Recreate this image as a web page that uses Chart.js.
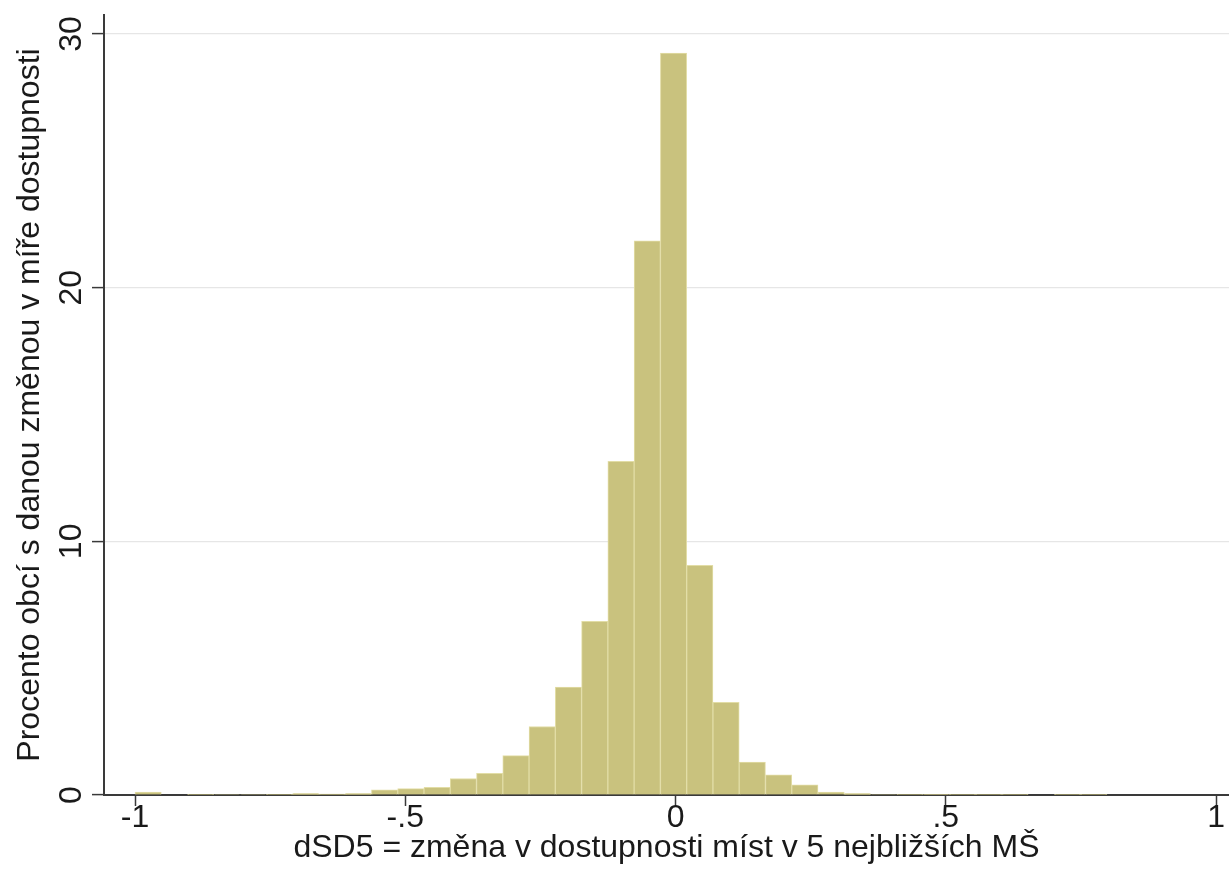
<!DOCTYPE html>
<html>
<head>
<meta charset="utf-8">
<script src="https://cdn.jsdelivr.net/npm/chart.js@4.4.1/dist/chart.umd.min.js"></script>
<style>
  html, body { margin: 0; padding: 0; background: #ffffff; }
  #wrap { width: 1229px; height: 882px; position: relative; }
</style>
</head>
<body>
<div id="wrap"><canvas id="c" width="1229" height="882"></canvas></div>
<script>
// Histogram bins (37 bins of equal width starting at -1.0)
const binStart = -1.0;
const binWidth = 0.0486;
const percentValues = [
  0.12, 0.00, 0.03, 0.02, 0.02, 0.03, 0.06, 0.04, 0.06, 0.20,
  0.25, 0.30, 0.65, 0.85, 1.55, 2.70, 4.25, 6.85, 13.15, 21.85,
  29.25, 9.05, 3.65, 1.30, 0.80, 0.40, 0.12, 0.06, 0.02, 0.03,
  0.01, 0.03, 0.03, 0.03, 0.00, 0.03, 0.03
];
const xTickValues = [-1, -0.5, 0, 0.5, 1];
const xTickLabels = ['-1', '-.5', '0', '.5', '1'];
const yTickValues = [0, 10, 20, 30];
const yTickLabels = ['0', '10', '20', '30'];
const xTitle = 'dSD5 = změna v dostupnosti míst v 5 nejbližších MŠ';
const yTitle = 'Procento obcí s danou změnou v míře dostupnosti';

const points = percentValues.map((v, i) => ({ x: binStart + (i + 0.5) * binWidth, y: v }));

const FONT = "'Liberation Sans', Arial, Helvetica, sans-serif";
const TEXT = '#1a1a1a';
const AXIS = '#3a3a3a';

new Chart(document.getElementById('c'), {
  type: 'bar',
  data: {
    datasets: [{
      data: points,
      backgroundColor: '#c9c27e',
      borderColor: '#e2dda6',
      borderWidth: 1,
      barPercentage: 1.0,
      categoryPercentage: 1.0,
      grouped: false
    }]
  },
  options: {
    responsive: false,
    animation: false,
    devicePixelRatio: 1,
    layout: { padding: { top: 15, right: 0, left: 0, bottom: 0 } },
    plugins: { legend: { display: false }, tooltip: { enabled: false } },
    scales: {
      x: {
        type: 'linear',
        offset: false,
        min: -1.0574,
        max: 1.024,
        afterBuildTicks: (s) => { s.ticks = xTickValues.map(v => ({ value: v })); },
        afterFit: (s) => { s.height = 87; s.paddingLeft = 0; s.paddingRight = 0; },
        ticks: {
          includeBounds: false,
          autoSkip: false,
          maxRotation: 0,
          minRotation: 0,
          color: TEXT,
          font: { family: FONT, size: 32 },
          padding: -7,
          callback: (v) => { const i = xTickValues.indexOf(v); return i >= 0 ? xTickLabels[i] : ''; }
        },
        grid: { offset: false, drawOnChartArea: false, drawTicks: true, tickLength: 11, tickColor: AXIS, tickWidth: 1.5 },
        border: { display: true, color: AXIS, width: 2 },
        title: { display: true, text: xTitle, color: TEXT, font: { family: FONT, size: 32 }, padding: { top: 15, bottom: 15 } }
      },
      y: {
        type: 'linear',
        min: 0,
        max: 30.75,
        afterBuildTicks: (s) => { s.ticks = yTickValues.map(v => ({ value: v })); },
        afterFit: (s) => { s.width = 104; s.paddingTop = 0; s.paddingBottom = 0; },
        ticks: {
          includeBounds: false,
          autoSkip: false,
          minRotation: 90,
          maxRotation: 90,
          crossAlign: 'center',
          color: TEXT,
          font: { family: FONT, size: 32 },
          padding: 2,
          callback: (v) => { const i = yTickValues.indexOf(v); return i >= 0 ? yTickLabels[i] : ''; }
        },
        grid: {
          drawOnChartArea: true,
          drawTicks: true,
          tickLength: 12,
          tickColor: AXIS,
          tickWidth: 1.5,
          color: (ctx) => (ctx.tick && ctx.tick.value === 0) ? 'rgba(0,0,0,0)' : '#e6e6e6',
          lineWidth: 1.2
        },
        border: { display: true, color: AXIS, width: 2 },
        title: { display: true, text: yTitle, color: TEXT, font: { family: FONT, size: 32 }, padding: { top: 11, bottom: 11 } }
      }
    }
  }
});
</script>
</body>
</html>
